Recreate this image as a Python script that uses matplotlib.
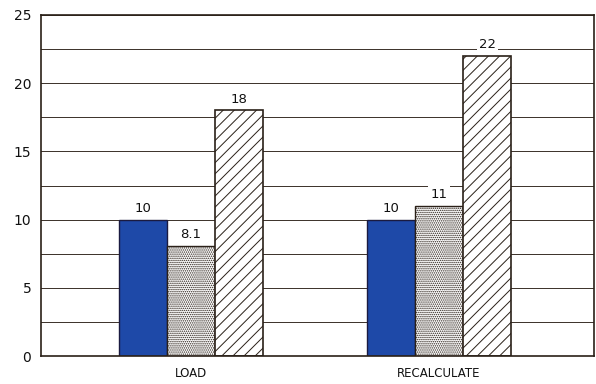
import matplotlib
matplotlib.use("Agg")
import matplotlib.pyplot as plt
import numpy as np

categories = ["LOAD", "RECALCULATE"]
series_blue = [10, 10]
series_dots = [8.1, 11]
series_hatch = [18, 22]
labels_blue = ["10", "10"]
labels_dots = ["8.1", "11"]
labels_hatch = ["18", "22"]
yticks = [0, 5, 10, 15, 20, 25]

plt.rcParams['hatch.linewidth'] = 0.7
ink = "#2a2018"
fig = plt.figure(figsize=(5.96, 3.84), dpi=100)
ax = fig.add_axes([41/596, 28/384, 553/596, 341/384])

x = np.arange(len(categories))
w = 0.194
ax.set_axisbelow(True)
for v in np.arange(0, 25.1, 2.5):
    ax.axhline(v, color="#3a3028", lw=0.7, zorder=0)

b1 = ax.bar(x - w, series_blue, w, color="#1e49a8", edgecolor="#1a1a40", lw=1.0, zorder=2)
plt.rcParams['hatch.color'] = "#8a8a8a"
b2 = ax.bar(x, series_dots, w, color="white", edgecolor=ink, hatch="........", lw=1.0, zorder=2)
plt.rcParams['hatch.color'] = "#444444"
b3 = ax.bar(x + w, series_hatch, w, color="white", edgecolor=ink, hatch="///", lw=1.2, zorder=2)

for bars, labs in ((b1, labels_blue), (b2, labels_dots), (b3, labels_hatch)):
    for r, t in zip(bars, labs):
        ax.text(r.get_x() + r.get_width()/2, r.get_height() + 0.35, t,
                ha="center", va="bottom", fontsize=9.5, color="#111111",
                bbox=dict(facecolor="white", edgecolor="none", pad=1.5), zorder=3)

ax.set_xlim(-0.605, 1.625)
ax.set_ylim(0, 25)
ax.set_yticks(yticks)
ax.set_xticks(x)
ax.set_xticklabels(categories, fontsize=8.5)
ax.tick_params(length=0, labelsize=10, colors="#111111", pad=7)
ax.tick_params(axis="x", labelsize=8.5, pad=8)
for s in ax.spines.values():
    s.set_color(ink)
    s.set_linewidth(1.2)

fig.savefig("out.png", dpi=100)
